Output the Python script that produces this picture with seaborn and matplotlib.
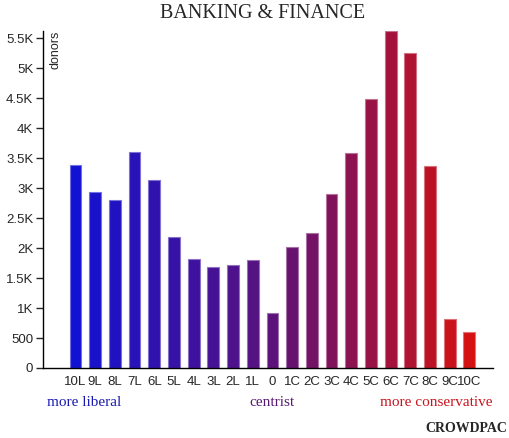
import numpy as np
import pandas as pd
import matplotlib
matplotlib.use('Agg')
import matplotlib.pyplot as plt
import seaborn as sb
from matplotlib.colors import LinearSegmentedColormap, to_rgb


categories = ['10L', '9L', '8L', '7L', '6L', '5L', '4L', '3L', '2L', '1L', '0',
              '1C', '2C', '3C', '4C', '5C', '6C', '7C', '8C', '9C', '10C']
donors = [3390, 2940, 2800, 3600, 3135, 2185, 1815, 1680, 1710, 1805, 910,
          2010, 2245, 2910, 3590, 4490, 5620, 5255, 3365, 810, 595]
y_ticks = [0, 500, 1000, 1500, 2000, 2500, 3000, 3500, 4000, 4500, 5000, 5500]
y_tick_labels = ['0', '500', '1K', '1.5K', '2K', '2.5K', '3K', '3.5K', '4K',
                 '4.5K', '5K', '5.5K']


def main():
    sb.set_style('white')
    plt.rcParams['font.family'] = ['Liberation Sans', 'DejaVu Sans']

    df = pd.DataFrame({'category': categories, 'donors': donors})

    cmap = LinearSegmentedColormap.from_list(
        'lr', ['#1212d2', '#5c127a', '#d41212'])
    colors = [cmap(i / (len(categories) - 1)) for i in range(len(categories))]
    edges = [tuple(0.6 * np.array(to_rgb(c)) + 0.4) for c in colors]

    fig = plt.figure(figsize=(5.1, 4.38), dpi=100)
    ax = fig.add_axes([43 / 510, 1 - 368 / 438, 450 / 510, 337 / 438])

    sb.barplot(data=df, x='category', y='donors', hue='category',
               palette=colors, legend=False, width=0.6, ax=ax,
               linewidth=0.8, saturation=1)
    for patch, ec in zip(ax.patches, edges):
        patch.set_edgecolor(ec)

    ax.set_xlim(-1.65, 21.2)
    ax.set_ylim(0, max(donors))
    ax.set_yticks(y_ticks)
    ax.set_yticklabels(y_tick_labels, fontsize=9.5)
    ax.tick_params(axis='x', length=0, labelsize=9.5, pad=6)
    ax.tick_params(axis='y', length=5, width=1, direction='out', pad=2,
                   left=True)
    ax.set_xlabel('')
    ax.set_ylabel('')

    for side in ['top', 'right']:
        ax.spines[side].set_visible(False)
    for side in ['left', 'bottom']:
        ax.spines[side].set_color('black')
        ax.spines[side].set_linewidth(1)

    ax.text(0.027, 1.0, 'donors', transform=ax.transAxes, rotation=90,
            ha='center', va='top', fontsize=9)

    fig.text(263 / 510, 1 - 13 / 438, 'BANKING & FINANCE', ha='center',
             va='center', fontsize=14.5, family='Liberation Serif')

    fig.text(47 / 510, 1 - 402 / 438, 'more liberal', ha='left', va='center',
             fontsize=11, family='Liberation Serif', color='#1a1ab4')
    fig.text(272 / 510, 1 - 402 / 438, 'centrist', ha='center', va='center',
             fontsize=11, family='Liberation Serif', color='#5a1a72')
    fig.text(493 / 510, 1 - 402 / 438, 'more conservative', ha='right',
             va='center', fontsize=11, family='Liberation Serif',
             color='#c8141e')
    fig.text(507 / 510, 1 - 429 / 438, 'CROWDPAC', ha='right', va='center',
             fontsize=10, family='Liberation Serif', weight='bold')

    fig.savefig('out.png', dpi=100)
    plt.close(fig)


if __name__ == '__main__':
    main()
